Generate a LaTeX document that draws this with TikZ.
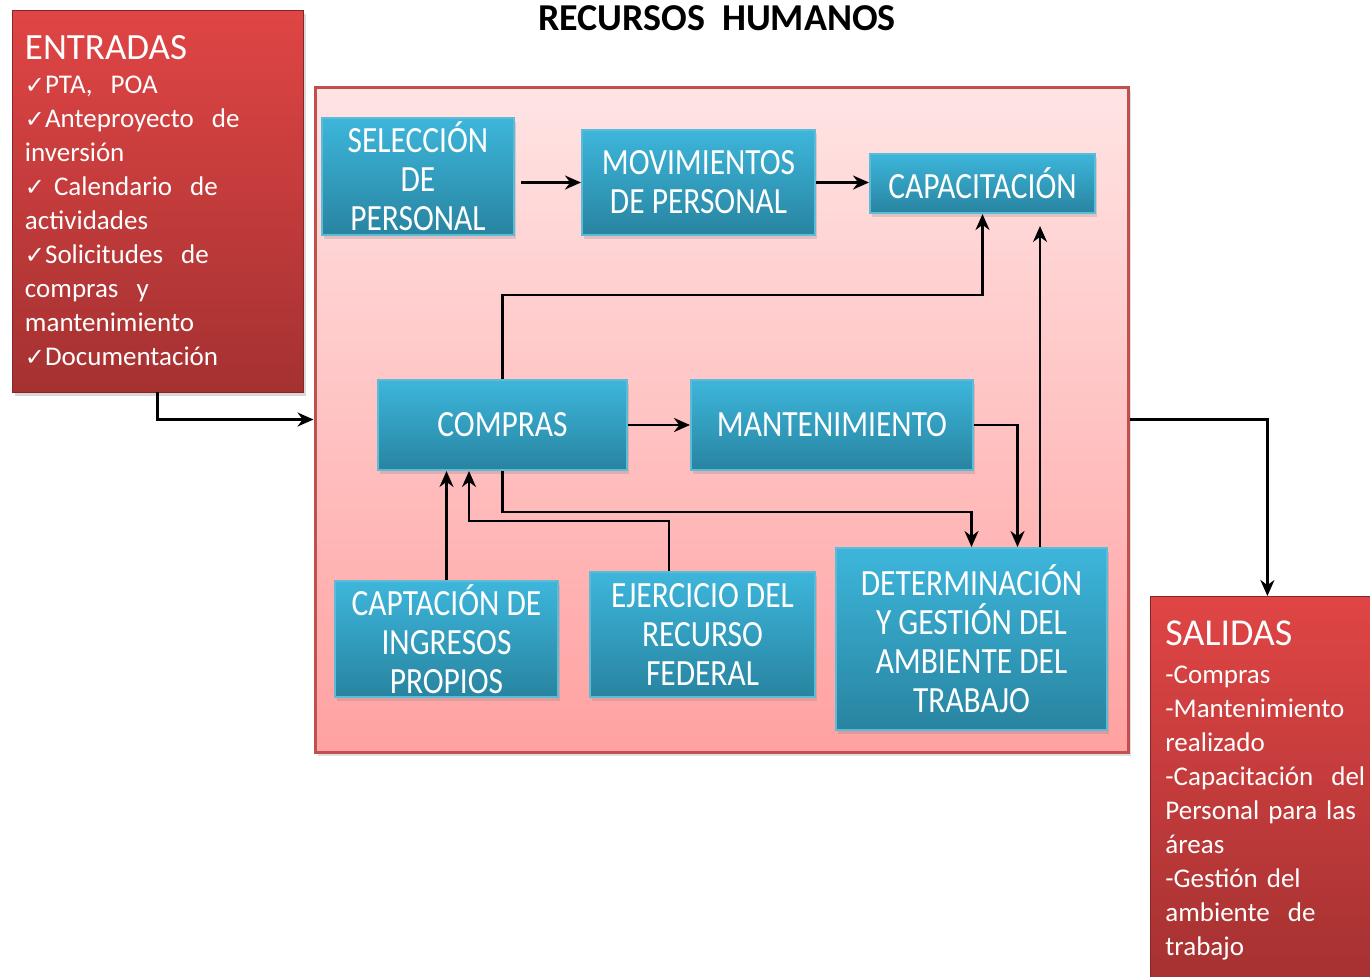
\documentclass[tikz,border=0pt]{standalone}
\usepackage{fontspec}
\setmainfont{Carlito}
\newfontfamily\boxfont[FakeStretch=0.85]{Carlito}
\newfontfamily\symfont{DejaVu Sans}
\usetikzlibrary{arrows.meta,calc,shadows}
\definecolor{bluetop}{HTML}{3DB6DB}
\definecolor{bluebot}{HTML}{2884A0}
\definecolor{blueedge}{HTML}{5CBCD8}
\definecolor{redtop}{HTML}{E04545}
\definecolor{redbot}{HTML}{A53131}
\definecolor{pinktop}{HTML}{FFE4E4}
\definecolor{pinkbot}{HTML}{FFA1A1}
\definecolor{pinkedge}{HTML}{C0504D}
\newcommand{\chk}{{\symfont\fontsize{12}{17}\selectfont ✓}}

\tikzset{
  procbox/.style={draw=blueedge, line width=1pt, top color=bluetop, bottom color=bluebot,
    text=white, align=center, inner sep=0pt,
    font=\boxfont\fontsize{18.5}{19.5}\selectfont,
    drop shadow={shadow xshift=1pt, shadow yshift=-2pt, opacity=0.25}},
  iobox/.style={draw=redbot!80!black, top color=redtop, bottom color=redbot,
    text=white, align=left, font=\fontsize{13.5}{17}\selectfont,
    drop shadow={shadow xshift=1.5pt, shadow yshift=-2pt, opacity=0.3}},
  flow/.style={draw=black, line width=1.3pt, -{Stealth[length=8pt,width=7pt]}},
}

\begin{document}
\begin{tikzpicture}[x=0.5pt, y=-0.5pt]
  \useasboundingbox (0,0) rectangle (1370,976);

  \node[font=\bfseries\fontsize{19}{22}\selectfont] (title) at (717,18) {RECURSOS\ \ HUMANOS};

  %% area de procesos
  \node[draw=pinkedge, line width=1.5pt, top color=pinktop, bottom color=pinkbot,
    minimum width=406.5pt, minimum height=332.5pt, inner sep=0pt,
    drop shadow={shadow xshift=1.5pt, shadow yshift=-2pt, opacity=0.25}] (proc) at (721.5,419.5) {};

  %% entradas y salidas
  \node[iobox, minimum width=145.5pt, minimum height=191pt, text width=132.5pt, inner xsep=6.5pt] (ent) at (157.5,201)
    {{\fontsize{18.5}{20}\selectfont ENTRADAS}\\
     \chk PTA,\ \ POA\\
     \chk Anteproyecto\ \ de\\
     inversión\\
     \chk\ Calendario\ \ de\\
     actividades\\
     \chk Solicitudes\ \ de\\
     compras\ \ y\\
     mantenimiento\\
     \chk Documentación};
  \node[iobox, anchor=north west, text width=102pt, inner xsep=7.5pt, inner ysep=12pt] (sal) at (1150,596)
    {{\fontsize{19}{20}\selectfont SALIDAS}\\[2pt]
     -Compras\\
     -Mantenimiento\\
     realizado\\
     -Capacitación\ \ del\\
     Personal para las\\
     áreas\\
     -Gestión del\\
     ambiente\ \ de\\
     trabajo};

  %% procesos
  \node[procbox, minimum width=96pt, minimum height=58.5pt] (sel) at (418,176.5) {SELECCIÓN\\DE\\PERSONAL};
  \node[procbox, minimum width=116.5pt, minimum height=52.5pt] (mov) at (698.5,182.5) {MOVIMIENTOS\\DE PERSONAL};
  \node[procbox, minimum width=112.5pt, minimum height=29.5pt] (cap) at (982.5,183.5) {CAPACITACIÓN};
  \node[procbox, minimum width=124.5pt, minimum height=45pt] (comp) at (502.5,425) {COMPRAS};
  \node[procbox, minimum width=141pt, minimum height=45pt] (mant) at (832,425) {MANTENIMIENTO};
  \node[procbox, minimum width=111.5pt, minimum height=58pt] (capt) at (446.5,639) {CAPTACIÓN DE\\INGRESOS\\PROPIOS};
  \node[procbox, minimum width=112.5pt, minimum height=62.5pt] (ejer) at (702.5,634.5) {EJERCICIO DEL\\RECURSO\\FEDERAL};
  \node[procbox, minimum width=135.5pt, minimum height=91pt] (det) at (971.5,639) {DETERMINACIÓN\\Y GESTIÓN DEL\\AMBIENTE DEL\\TRABAJO};

  \coordinate (detcap) at ($(det.north)+(68.5,0)$);
  \coordinate (mantdet) at ($(det.north)+(46,0)$);
  \coordinate (ejerup) at ($(ejer.north)+(-33.5,0)$);
  \coordinate (compin) at ($(comp.south)+(-33.5,0)$);

  \draw[flow, shorten <=3pt] (sel.east |- mov.west) -- (mov.west); % sel->mov
  \draw[flow] (mov.east) -- (mov.east -| cap.west); % mov->cap
  \draw[flow] (comp.north) -- ++(0,-84) -| (cap.south); % comp->cap
  \draw[flow, shorten >=6pt] (detcap) -- (detcap |- cap.south); % det->cap
  \draw[flow] (comp) -- (mant); % comp->mant
  \draw[flow] (mant.east) -| (mantdet); % mant->det
  \draw[flow] (comp.south) -- ++(0,41) -| (det.north); % comp->det
  \draw[flow] (capt.north) -- (capt.north |- comp.south); % capt->comp
  \draw[flow] (ejerup) -- ++(0,-50) -| (compin); % ejer->comp

  \draw[flow] (ent.south) |- (proc.west); % ent->proc
  \draw[flow] (proc.east) -| (sal.north); % proc->sal
\end{tikzpicture}
\end{document}
